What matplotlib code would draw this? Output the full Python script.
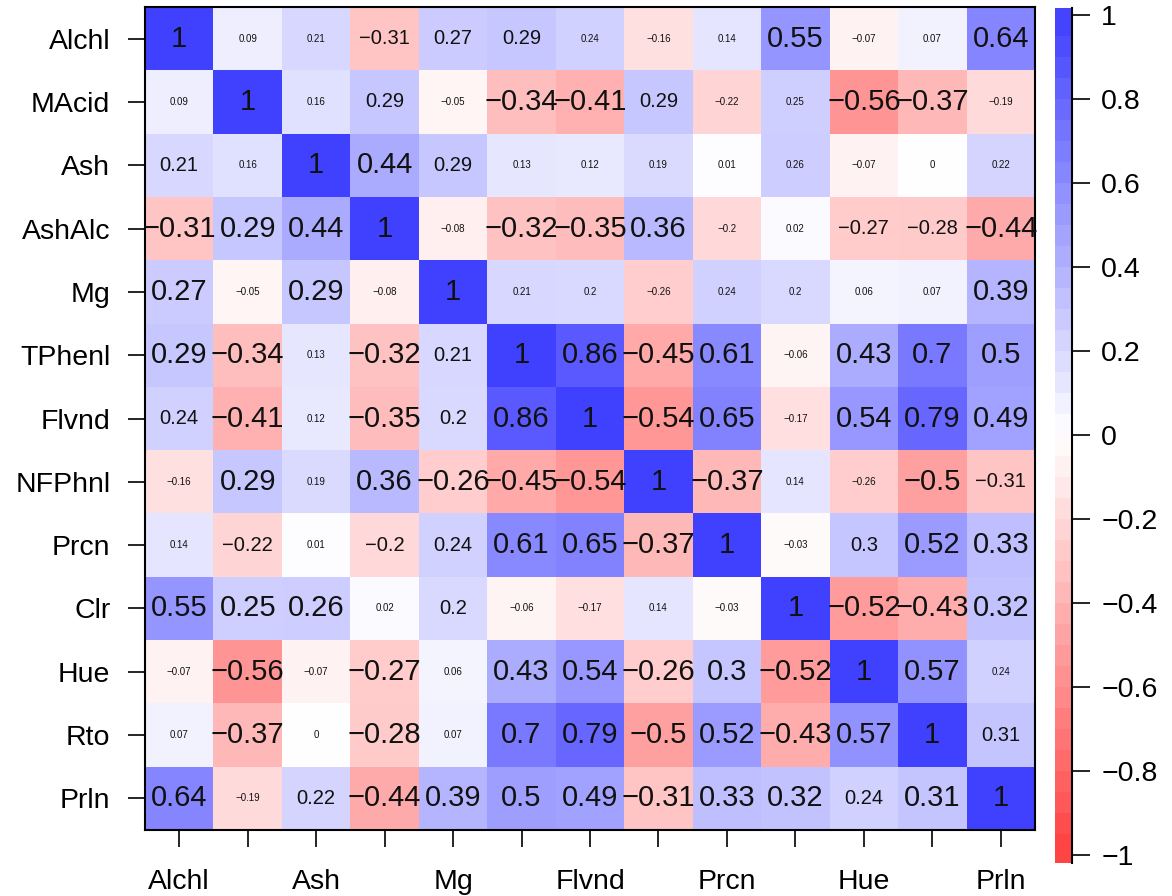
import numpy as np
import matplotlib.pyplot as plt
from matplotlib.colors import LinearSegmentedColormap

plt.rcParams['font.family'] = ['Liberation Sans', 'DejaVu Sans']

# 变量名
names = ['Alchl', 'MAcid', 'Ash', 'AshAlc', 'Mg', 'TPhenl', 'Flvnd',
         'NFPhnl', 'Prcn', 'Clr', 'Hue', 'Rto', 'Prln']

# 相关系数矩阵
corr = np.array([
    [1, 0.09, 0.21, -0.31, 0.27, 0.29, 0.24, -0.16, 0.14, 0.55, -0.07, 0.07, 0.64],
    [0.09, 1, 0.16, 0.29, -0.05, -0.34, -0.41, 0.29, -0.22, 0.25, -0.56, -0.37, -0.19],
    [0.21, 0.16, 1, 0.44, 0.29, 0.13, 0.12, 0.19, 0.01, 0.26, -0.07, 0, 0.22],
    [-0.31, 0.29, 0.44, 1, -0.08, -0.32, -0.35, 0.36, -0.2, 0.02, -0.27, -0.28, -0.44],
    [0.27, -0.05, 0.29, -0.08, 1, 0.21, 0.2, -0.26, 0.24, 0.2, 0.06, 0.07, 0.39],
    [0.29, -0.34, 0.13, -0.32, 0.21, 1, 0.86, -0.45, 0.61, -0.06, 0.43, 0.7, 0.5],
    [0.24, -0.41, 0.12, -0.35, 0.2, 0.86, 1, -0.54, 0.65, -0.17, 0.54, 0.79, 0.49],
    [-0.16, 0.29, 0.19, 0.36, -0.26, -0.45, -0.54, 1, -0.37, 0.14, -0.26, -0.5, -0.31],
    [0.14, -0.22, 0.01, -0.2, 0.24, 0.61, 0.65, -0.37, 1, -0.03, 0.3, 0.52, 0.33],
    [0.55, 0.25, 0.26, 0.02, 0.2, -0.06, -0.17, 0.14, -0.03, 1, -0.52, -0.43, 0.32],
    [-0.07, -0.56, -0.07, -0.27, 0.06, 0.43, 0.54, -0.26, 0.3, -0.52, 1, 0.57, 0.24],
    [0.07, -0.37, 0, -0.28, 0.07, 0.7, 0.79, -0.5, 0.52, -0.43, 0.57, 1, 0.31],
    [0.64, -0.19, 0.22, -0.44, 0.39, 0.5, 0.49, -0.31, 0.33, 0.32, 0.24, 0.31, 1],
])

# 数字字号等级: 0 小, 1 中, 2 大
size_level = [
    "2001110002002",
    "0201022100220",
    "1022100000000",
    "2222022200112",
    "2020200000002",
    "2202122220222",
    "1202122220222",
    "0202222220021",
    "0101122220122",
    "2220100002222",
    "0202022222220",
    "0202022222221",
    "2012222222122",
]
font_sizes = {'0': 7, '1': 14.5, '2': 21}

cbar_ticks = [1, 0.8, 0.6, 0.4, 0.2, 0, -0.2, -0.4, -0.6, -0.8, -1]

cmap = LinearSegmentedColormap.from_list(
    'rwb', ['#FF4040', '#FFFFFF', '#4040FF'])

W, H = 1172, 896
fig = plt.figure(figsize=(W / 100, H / 100), dpi=100)

# 热图
n = len(names)
ax = fig.add_axes([145 / W, 1 - 830 / H, 890 / W, 823 / H])
ax.pcolormesh(np.arange(n + 1), np.arange(n + 1), corr, cmap=cmap,
              vmin=-1, vmax=1)
ax.set_xlim(0, n)
ax.set_ylim(n, 0)


def fmt(v):
    s = f"{round(v, 2):g}"
    return s.replace('-', '\u2212')


for i in range(n):
    for j in range(n):
        ax.text(j + 0.5, i + 0.5, fmt(corr[i, j]), ha='center', va='center',
                fontsize=font_sizes[size_level[i][j]], color='#111111')

ax.set_yticks(np.arange(n) + 0.5)
ax.set_yticklabels(names, fontsize=20.5)
ax.set_xticks(np.arange(n) + 0.5)
ax.set_xticklabels([nm if k % 2 == 0 else '' for k, nm in enumerate(names)],
                   fontsize=20.5)
ax.tick_params(axis='y', length=12, width=1.2, pad=13)
ax.tick_params(axis='x', length=12, width=1.2, pad=16)
for sp in ax.spines.values():
    sp.set_linewidth(1.5)

# 颜色条
cax = fig.add_axes([1055 / W, 1 - 863 / H, 17 / W, 855 / H])
lo, hi = -1.019, 1.017
edges = np.linspace(-1, 1, 41)
centers = (edges[:-1] + edges[1:]) / 2
edges[0], edges[-1] = lo, hi
cax.pcolormesh([0, 1], edges, centers.reshape(-1, 1), cmap=cmap,
               vmin=-1, vmax=1)
cax.set_ylim(lo, hi)
cax.set_xlim(0, 1)
cax.set_xticks([])
cax.yaxis.tick_right()
cax.set_yticks(cbar_ticks)
cax.set_yticklabels([fmt(t) for t in cbar_ticks], fontsize=20.5)
cax.tick_params(axis='y', length=13, width=1.2, pad=8)
for side in ['left', 'top', 'bottom']:
    cax.spines[side].set_visible(False)
cax.spines['right'].set_linewidth(1.5)

plt.savefig('out.png')
